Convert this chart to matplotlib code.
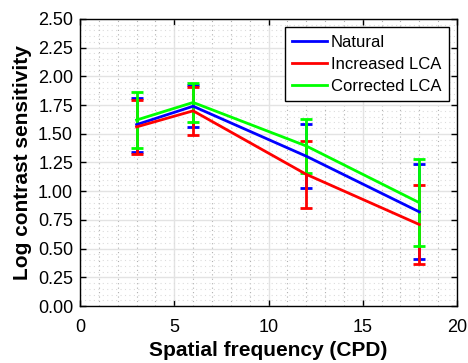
import matplotlib
matplotlib.use("Agg")
import matplotlib.pyplot as plt
from matplotlib.ticker import MultipleLocator
from matplotlib.lines import Line2D

plt.rcParams['font.family'] = ['Liberation Sans', 'DejaVu Sans']

freq = [3, 6, 12, 18]
natural = [1.58, 1.74, 1.305, 0.82]
natural_err = [0.235, 0.185, 0.279, 0.414]
increased = [1.56, 1.70, 1.147, 0.71]
increased_err = [0.232, 0.21, 0.293, 0.344]
corrected = [1.62, 1.773, 1.394, 0.90]
corrected_err = [0.244, 0.168, 0.238, 0.378]

labels = ['Natural', 'Increased LCA', 'Corrected LCA']
colors = ['#0000ff', '#ff0000', '#00ff00']
xticks = [0, 5, 10, 15, 20]
yticks = [0.0, 0.25, 0.5, 0.75, 1.0, 1.25, 1.5, 1.75, 2.0, 2.25, 2.5]

fig = plt.figure(figsize=(4.68, 3.63), dpi=100)
ax = fig.add_axes([0.171, 0.157, 0.8055, 0.7907])

series = [(natural, natural_err), (increased, increased_err), (corrected, corrected_err)]
handles = []
for (vals, errs), lab, col in zip(series, labels, colors):
    ax.errorbar(freq, vals, yerr=errs, color=col, lw=2.0, elinewidth=2.0,
                capsize=4.2, capthick=2.0)
    handles.append(Line2D([0], [0], color=col, lw=2.0))

ax.set_xlim(0, 20)
ax.set_ylim(0, 2.5)
ax.set_xticks(xticks)
ax.set_xticklabels([str(t) for t in xticks])
ax.set_yticks(yticks)
ax.set_yticklabels([f"{t:.2f}" for t in yticks])
ax.xaxis.set_minor_locator(MultipleLocator(1))
ax.yaxis.set_minor_locator(MultipleLocator(0.05))

ax.grid(which='major', color='#e3e3e3', lw=1.0, ls='-')
ax.grid(which='minor', axis='x', color='#b0b0b0', lw=0.8, ls=(0, (1, 3)))
ax.grid(which='minor', axis='y', color='#dcdcdc', lw=0.8, ls=(0, (1, 3)))
ax.set_axisbelow(True)

ax.tick_params(which='major', direction='in', length=4, width=1, top=True, right=True,
               labelsize=13, colors='black')
ax.tick_params(axis='x', which='major', pad=9)
ax.tick_params(axis='y', which='major', pad=5)
ax.tick_params(which='minor', length=0, top=True, right=True)
for sp in ax.spines.values():
    sp.set_color('black')
    sp.set_linewidth(1.0)

ax.set_xlabel('Spatial frequency (CPD)', fontsize=15, fontweight='bold', labelpad=4)
ax.set_ylabel('Log contrast sensitivity', fontsize=15, fontweight='bold', labelpad=4)

leg = ax.legend(handles, labels, loc='upper right', fontsize=12, frameon=True, fancybox=False,
                edgecolor='black', framealpha=1, handlelength=2.1, handletextpad=0.2,
                labelspacing=0.42, borderpad=0.45, borderaxespad=0.5)
leg.get_frame().set_linewidth(1.0)

fig.savefig('out.png', dpi=100)
